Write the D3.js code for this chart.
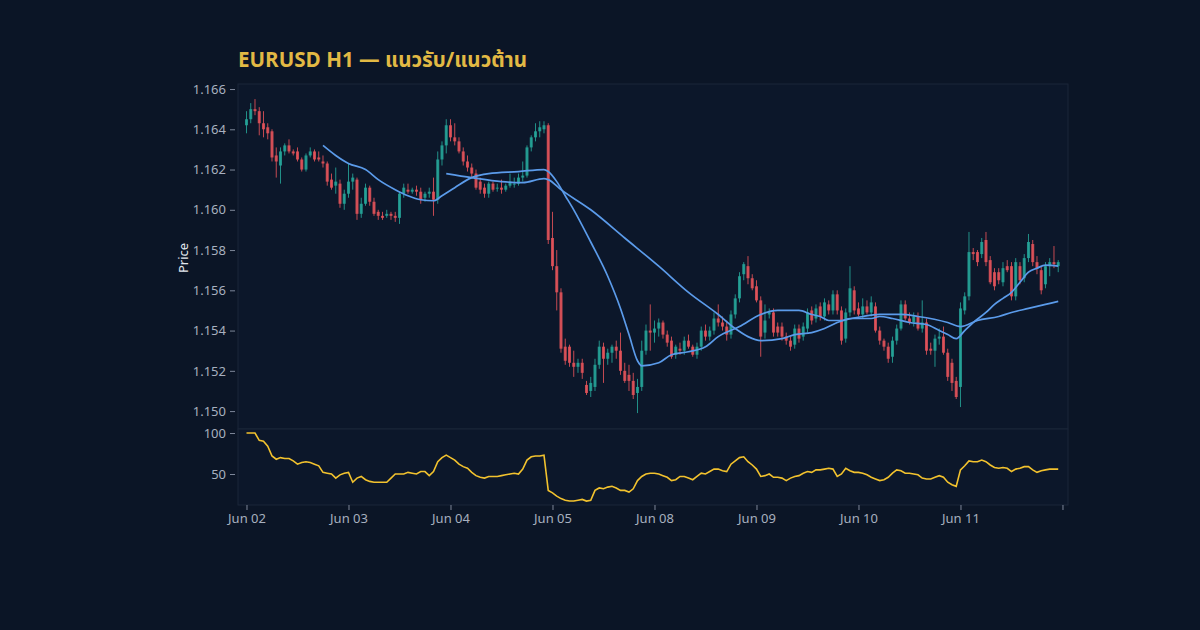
<!DOCTYPE html>
<html><head><meta charset="utf-8">
<script src="https://cdn.jsdelivr.net/npm/d3@7"></script>
<style>html,body{margin:0;padding:0;background:#0b1526;}svg{display:block}</style>
</head><body>
<svg id="chart" width="1200" height="630"></svg>
<script>
// ---- DATA (EURUSD H1) ----
const opens = [
1.1642,1.1645,1.1650,1.1649,1.1643,1.1641,1.1639,1.1627,1.1622,1.1629,1.1632,1.1629,
1.1629,1.1625,1.1620,1.1627,1.1629,1.1626,1.1624,1.1623,1.1615,1.1612,1.1613,1.1603,
1.1608,1.1614,1.1615,1.1598,1.1603,1.1611,1.1604,1.1599,1.1597,1.1597,1.1598,1.1597,
1.1596,1.1608,1.1610,1.1609,1.1610,1.1609,1.1606,1.1608,1.1609,1.1605,1.1625,1.1632,
1.1642,1.1636,1.1634,1.1629,1.1624,1.1621,1.1618,1.1614,1.1611,1.1608,1.1613,1.1611,
1.1611,1.1610,1.1612,1.1613,1.1613,1.1616,1.1617,1.1631,1.1636,1.1639,1.1640,1.1642,
1.1586,1.1572,1.1559,1.1532,1.1532,1.1524,1.1522,1.1524,1.1513,1.1510,1.1512,1.1523,
1.1532,1.1526,1.1529,1.1532,1.1530,1.1520,1.1518,1.1515,1.1509,1.1512,1.1530,1.1540,
1.1539,1.1541,1.1544,1.1538,1.1535,1.1528,1.1531,1.1530,1.1535,1.1532,1.1528,1.1532,
1.1540,1.1537,1.1540,1.1546,1.1544,1.1542,1.1538,1.1548,1.1556,1.1568,1.1572,1.1566,
1.1562,1.1555,1.1539,1.1548,1.1549,1.1542,1.1542,1.1537,1.1535,1.1533,1.1541,1.1537,
1.1541,1.1550,1.1546,1.1552,1.1547,1.1553,1.1550,1.1558,1.1550,1.1536,1.1549,1.1560,
1.1551,1.1548,1.1552,1.1549,1.1552,1.1540,1.1535,1.1532,1.1527,1.1535,1.1541,1.1553,
1.1546,1.1544,1.1547,1.1541,1.1544,1.1531,1.1530,1.1536,1.1537,1.1529,1.1524,1.1515,
1.1512,1.1550,1.1557,1.1579,1.1579,1.1578,1.1585,1.1575,1.1569,1.1569,1.1564,1.1572,
1.1572,1.1557,1.1572,1.1566,1.1576,1.1583,1.1574,1.1570,1.1563,1.1572,1.1574,1.1572];
const highs = [
1.1649,1.1653,1.1655,1.1651,1.1649,1.1643,1.1640,1.1631,1.1631,1.1633,1.1635,1.1630,
1.1631,1.1626,1.1628,1.1631,1.1630,1.1629,1.1627,1.1624,1.1618,1.1621,1.1615,1.1610,
1.1623,1.1618,1.1616,1.1606,1.1613,1.1612,1.1606,1.1600,1.1599,1.1600,1.1599,1.1599,
1.1609,1.1613,1.1613,1.1611,1.1612,1.1611,1.1609,1.1611,1.1616,1.1629,1.1634,1.1645,
1.1645,1.1643,1.1636,1.1631,1.1627,1.1623,1.1620,1.1616,1.1613,1.1614,1.1614,1.1613,
1.1615,1.1613,1.1618,1.1616,1.1618,1.1624,1.1632,1.1637,1.1643,1.1644,1.1644,1.1643,
1.1599,1.1580,1.1561,1.1536,1.1533,1.1530,1.1526,1.1526,1.1515,1.1517,1.1526,1.1535,
1.1534,1.1531,1.1533,1.1535,1.1539,1.1524,1.1523,1.1519,1.1516,1.1535,1.1543,1.1553,
1.1545,1.1546,1.1545,1.1540,1.1537,1.1533,1.1534,1.1537,1.1538,1.1533,1.1534,1.1542,
1.1543,1.1542,1.1549,1.1553,1.1547,1.1545,1.1550,1.1558,1.1569,1.1574,1.1577,1.1568,
1.1565,1.1557,1.1553,1.1551,1.1551,1.1544,1.1544,1.1539,1.1537,1.1543,1.1543,1.1544,
1.1551,1.1552,1.1553,1.1554,1.1556,1.1555,1.1560,1.1560,1.1552,1.1551,1.1572,1.1562,
1.1554,1.1556,1.1555,1.1557,1.1554,1.1542,1.1536,1.1534,1.1537,1.1543,1.1555,1.1555,
1.1549,1.1549,1.1549,1.1555,1.1546,1.1534,1.1538,1.1541,1.1542,1.1531,1.1526,1.1517,
1.1554,1.1559,1.1589,1.1581,1.1580,1.1586,1.1589,1.1577,1.1571,1.1571,1.1574,1.1575,
1.1574,1.1576,1.1574,1.1578,1.1588,1.1585,1.1577,1.1572,1.1574,1.1576,1.1582,1.1575];
const lows = [
1.1638,1.1643,1.1647,1.1637,1.1636,1.1635,1.1624,1.1616,1.1613,1.1627,1.1628,1.1627,
1.1624,1.1619,1.1619,1.1626,1.1624,1.1624,1.1621,1.1612,1.1610,1.1608,1.1601,1.1600,
1.1606,1.1610,1.1595,1.1596,1.1602,1.1602,1.1597,1.1595,1.1595,1.1596,1.1595,1.1594,
1.1593,1.1606,1.1608,1.1608,1.1607,1.1603,1.1604,1.1606,1.1597,1.1603,1.1622,1.1628,
1.1634,1.1632,1.1628,1.1622,1.1619,1.1616,1.1610,1.1608,1.1606,1.1606,1.1609,1.1609,
1.1608,1.1609,1.1611,1.1611,1.1612,1.1614,1.1616,1.1629,1.1634,1.1636,1.1638,1.1583,
1.1570,1.1550,1.1529,1.1523,1.1522,1.1517,1.1519,1.1516,1.1508,1.1507,1.1510,1.1521,
1.1514,1.1523,1.1524,1.1526,1.1518,1.1514,1.1510,1.1506,1.1499,1.1510,1.1528,1.1530,
1.1534,1.1537,1.1536,1.1532,1.1526,1.1526,1.1528,1.1528,1.1531,1.1527,1.1526,1.1530,
1.1535,1.1535,1.1538,1.1542,1.1540,1.1535,1.1536,1.1546,1.1554,1.1565,1.1563,1.1560,
1.1554,1.1527,1.1536,1.1546,1.1537,1.1537,1.1535,1.1533,1.1530,1.1531,1.1534,1.1535,
1.1539,1.1543,1.1544,1.1545,1.1545,1.1548,1.1548,1.1548,1.1533,1.1534,1.1547,1.1548,
1.1547,1.1546,1.1548,1.1547,1.1539,1.1533,1.1530,1.1524,1.1524,1.1533,1.1540,1.1545,
1.1543,1.1542,1.1540,1.1539,1.1528,1.1528,1.1522,1.1533,1.1528,1.1515,1.1510,1.1506,
1.1502,1.1548,1.1555,1.1575,1.1572,1.1576,1.1572,1.1563,1.1560,1.1563,1.1562,1.1569,
1.1555,1.1555,1.1563,1.1564,1.1574,1.1572,1.1568,1.1558,1.1561,1.1567,1.1571,1.1569];
const closes = [
1.1645,1.1650,1.1649,1.1643,1.1640,1.1638,1.1626,1.1624,1.1629,1.1632,1.1629,1.1628,
1.1625,1.1620,1.1627,1.1629,1.1625,1.1625,1.1623,1.1614,1.1611,1.1614,1.1603,1.1608,
1.1614,1.1616,1.1598,1.1603,1.1611,1.1604,1.1598,1.1597,1.1596,1.1598,1.1597,1.1596,
1.1608,1.1611,1.1609,1.1610,1.1609,1.1605,1.1608,1.1609,1.1605,1.1625,1.1632,1.1642,
1.1636,1.1634,1.1629,1.1624,1.1621,1.1618,1.1611,1.1610,1.1608,1.1613,1.1610,1.1611,
1.1610,1.1612,1.1614,1.1613,1.1616,1.1617,1.1631,1.1636,1.1639,1.1641,1.1642,1.1585,
1.1572,1.1559,1.1531,1.1525,1.1524,1.1522,1.1524,1.1519,1.1509,1.1514,1.1523,1.1532,
1.1526,1.1529,1.1532,1.1530,1.1520,1.1515,1.1515,1.1508,1.1512,1.1530,1.1540,1.1539,
1.1541,1.1544,1.1538,1.1534,1.1527,1.1532,1.1530,1.1535,1.1532,1.1528,1.1532,1.1540,
1.1537,1.1540,1.1546,1.1544,1.1542,1.1538,1.1548,1.1556,1.1567,1.1573,1.1566,1.1561,
1.1555,1.1537,1.1545,1.1549,1.1539,1.1539,1.1537,1.1535,1.1532,1.1541,1.1536,1.1542,
1.1549,1.1545,1.1551,1.1547,1.1554,1.1550,1.1558,1.1550,1.1535,1.1549,1.1561,1.1550,
1.1548,1.1552,1.1549,1.1554,1.1540,1.1535,1.1532,1.1526,1.1535,1.1541,1.1553,1.1546,
1.1544,1.1547,1.1541,1.1544,1.1530,1.1530,1.1536,1.1537,1.1529,1.1517,1.1514,1.1507,
1.1551,1.1557,1.1579,1.1578,1.1574,1.1584,1.1574,1.1564,1.1562,1.1565,1.1571,1.1570,
1.1557,1.1574,1.1565,1.1576,1.1584,1.1574,1.1571,1.1560,1.1572,1.1574,1.1573,1.1574];

// moving averages (bar index, value)
const maFastIndex  = [18,21,24,28,31,35,38,41,44,46,49,53,57,64,70,71,73,75,77,81,85,88,90,92,93,97,100,104,108,111,116,121,125,130,133,135,137,140,142,147,149,152,156,160,163,165,167,169,171,174,176,178,180,182,184,186,188,191];
const maFastValues = [1.1632,1.1627,1.1623,1.1620,1.1615,1.1610,1.1607,1.1605,1.16045,1.1607,1.1611,1.1616,1.1618,1.1619,1.1620,1.1619,1.1614,1.1607,1.1600,1.1584,1.1567,1.1551,1.1538,1.1525,1.15225,1.1524,1.1528,1.15295,1.1532,1.1537,1.1542,1.1548,1.1550,1.1550,1.1548,1.1547,1.1545,1.1545,1.1546,1.1546,1.1547,1.1546,1.1544,1.1543,1.1540,1.1538,1.1536,1.1540,1.1544,1.1549,1.1553,1.1556,1.1559,1.1564,1.1569,1.1571,1.15725,1.1572];
const maSlowIndex  = [47,53,60,65,70,71,74,81,89,97,104,111,115,118,121,126,129,133,136,139,145,149,154,158,165,168,172,177,180,184,188,191];
const maSlowValues = [1.1618,1.1616,1.1614,1.16135,1.16155,1.1615,1.1610,1.1600,1.1586,1.1572,1.1559,1.1548,1.1541,1.1537,1.1535,1.1536,1.1538,1.1539,1.1541,1.1544,1.1547,1.1548,1.1548,1.1547,1.1544,1.1542,1.1545,1.1547,1.1549,1.1551,1.1553,1.15545];

// oscillator (lower panel), one value per bar
const oscValues = [
100,100,100,91,90,84,72,68,70,69,69,66,
62,64,65,64,62,60,52,51,50,45,49,51,
52,40,45,47,43,41,40,40,40,40,45,50,
50,50,52,51,50,53,53,48,53,65,70,73,
70,67,62,59,57,52,48,46,45,47,47,47,
48,49,50,51,50,56,67,71,72,72,73,30,
27,23,20,18,17,17,18,19,17,18,30,33,
32,34,35,33,30,30,28,32,42,47,50,51,
51,50,48,46,42,43,47,47,45,43,47,51,
50,53,56,56,54,53,62,66,70,71,65,61,
56,47,48,50,46,46,45,42,45,47,48,51,
53,52,55,55,56,57,56,47,50,57,54,52,
52,51,49,46,44,42,43,46,51,55,54,51,
51,50,49,45,44,44,46,48,46,40,37,35,
55,60,66,65,65,67,65,61,58,57,58,57,
53,56,57,59,59,55,52,54,55,56,56,56];

const tickIndex  = [0,24,48,72,96,120,144,168,192];
const tickLabels = ["Jun 02","Jun 03","Jun 04","Jun 05","Jun 08","Jun 09","Jun 10","Jun 11",""];
const priceTicks = [1.150,1.152,1.154,1.156,1.158,1.160,1.162,1.164,1.166];
const oscTicks   = [50,100];
const titleText  = "EURUSD H1 — แนวรับ/แนวต้าน";

// ---- CHART ----
const svg = d3.select("#chart");
const L = 238, R = 1068, PT = 84, PB = 429, OB = 505;
const UP = "#26a69a", DN = "#e5535a";
const font = "'Noto Sans', 'DejaVu Sans', sans-serif";

svg.append("rect").attr("width",1200).attr("height",630).attr("fill","#0b1526");

const x  = d3.scaleLinear().domain([-2, 193.3]).range([L, R]);
const y  = d3.scaleLinear().domain([1.14911, 1.16625]).range([PB, PT]);
const yo = d3.scaleLinear().domain([12.2, 104.9]).range([OB, PB]);

// panel frames
svg.append("rect").attr("x",L).attr("y",PT).attr("width",R-L).attr("height",PB-PT)
  .attr("fill","#0c172a").attr("stroke","#1b2638").attr("stroke-width",1);
svg.append("rect").attr("x",L).attr("y",PB).attr("width",R-L).attr("height",OB-PB)
  .attr("fill","#0c172a").attr("stroke","#1b2638").attr("stroke-width",1);

const bars = d3.range(opens.length).map(i => ({i, o:opens[i], h:highs[i], l:lows[i], c:closes[i]}));

const gC = svg.append("g");
gC.selectAll("line.w").data(bars).join("line")
  .attr("x1", d => x(d.i)).attr("x2", d => x(d.i))
  .attr("y1", d => y(d.h)).attr("y2", d => y(d.l))
  .attr("stroke", d => d.c >= d.o ? UP : DN).attr("stroke-width", 1).attr("opacity",0.85);
gC.selectAll("rect.b").data(bars).join("rect")
  .attr("x", d => x(d.i) - 1.5).attr("width", 3)
  .attr("y", d => y(Math.max(d.o, d.c)))
  .attr("height", d => Math.max(1, Math.abs(y(d.o) - y(d.c))))
  .attr("fill", d => d.c >= d.o ? UP : DN).attr("opacity",0.85);

const maLine = d3.line().x(d => x(d[0])).y(d => y(d[1])).curve(d3.curveMonotoneX);
svg.append("path").datum(d3.zip(maFastIndex, maFastValues)).attr("d", maLine)
  .attr("fill","none").attr("stroke","#5b9bea").attr("stroke-width",1.7);
svg.append("path").datum(d3.zip(maSlowIndex, maSlowValues)).attr("d", maLine)
  .attr("fill","none").attr("stroke","#5b9bea").attr("stroke-width",1.7);

const oscLine = d3.line().x((d,i) => x(i)).y(d => yo(d));
svg.append("path").datum(oscValues).attr("d", oscLine)
  .attr("fill","none").attr("stroke","#f2c22e").attr("stroke-width",1.6);

// axes
function styleAxis(g){
  g.select(".domain").remove();
  g.selectAll(".tick line").attr("stroke","#7d8799");
  g.selectAll(".tick text").attr("fill","#a7b0bf").style("font-family",font).style("font-size","13px");
}
svg.append("g").attr("transform",`translate(${L-3},0)`)
  .call(d3.axisLeft(y).tickValues(priceTicks).tickFormat(d3.format(".3f")).tickSize(5).tickPadding(4))
  .call(styleAxis);
svg.append("g").attr("transform",`translate(${L-3},0)`)
  .call(d3.axisLeft(yo).tickValues(oscTicks).tickFormat(d3.format("d")).tickSize(5).tickPadding(4))
  .call(styleAxis);
svg.append("g").attr("transform",`translate(0,${OB})`)
  .call(d3.axisBottom(x).tickValues(tickIndex).tickFormat((d,i) => tickLabels[i]).tickSize(5).tickPadding(4))
  .call(styleAxis);

svg.append("text").attr("transform","translate(188,258) rotate(-90)")
  .attr("text-anchor","middle").attr("fill","#e3e8ee")
  .style("font-family",font).style("font-size","13px").text("Price");

svg.append("text").attr("x",L).attr("y",67).attr("fill","#e2b944")
  .style("font-family","'Noto Sans Thai','Noto Sans','DejaVu Sans',sans-serif")
  .style("font-size","20.6px").style("font-weight","bold").text(titleText);
</script>
</body></html>
